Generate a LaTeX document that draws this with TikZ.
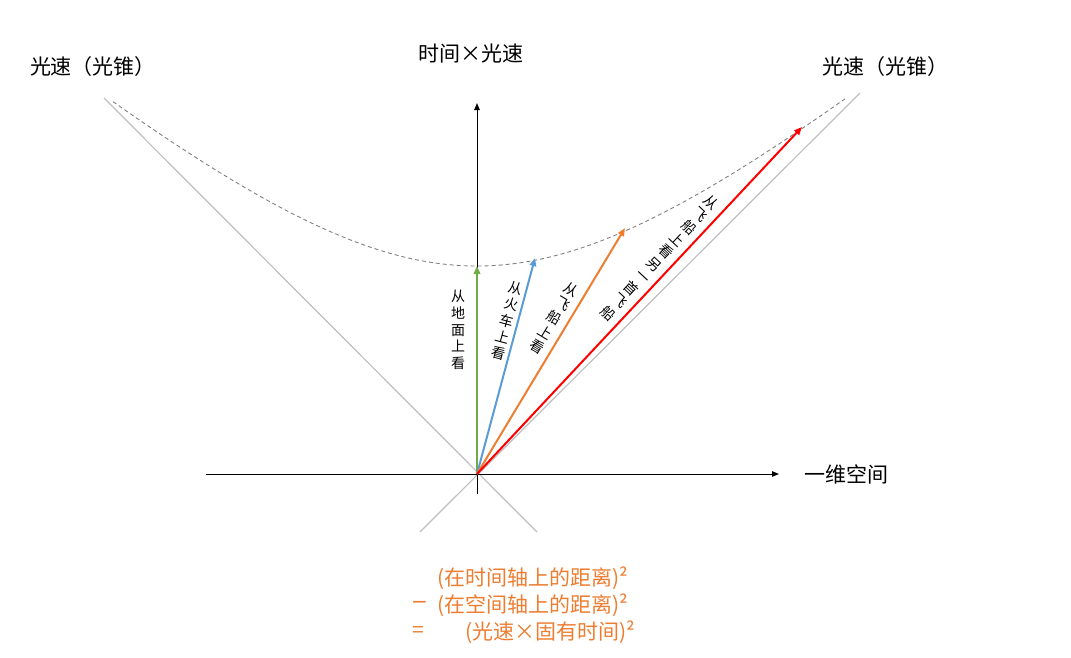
\documentclass[tikz,border=0pt]{standalone}
\usepackage{fontspec}
\setmainfont{Noto Sans CJK SC}
\newfontfamily\djv{DejaVu Sans}
\usetikzlibrary{arrows.meta}
\definecolor{cgreen}{HTML}{70AD47}
\definecolor{cblue}{HTML}{5B9BD5}
\definecolor{corange}{HTML}{ED7D31}
\definecolor{cred}{HTML}{FF0000}
\definecolor{cone}{HTML}{BFBFBF}
\definecolor{hypgray}{HTML}{808080}
\tikzset{
  axis/.style={black, line width=1pt, -{Triangle[length=7pt,width=5.5pt]}},
  conel/.style={cone, line width=1.2pt},
  hyp/.style={hypgray, line width=0.9pt, dash pattern=on 4pt off 3pt},
  vec/.style={line width=2pt, -{Triangle[length=8pt,width=6.5pt]}},
  head/.style={font=\fontsize{21}{24}\selectfont, inner sep=0pt},
  vlab/.style={font=\fontsize{14}{16.8}\selectfont, align=center, inner sep=0pt},
  eq/.style={font=\fontsize{21}{24}\selectfont, text=corange, inner sep=0pt, anchor=west},
}
\begin{document}
\begin{tikzpicture}[x=1pt,y=-1pt]
\useasboundingbox (0,0) rectangle (1071,657);
% coordinates
\coordinate (O) at (477,474);
\coordinate (ybot) at (477,494);
\coordinate (ytop) at (477,103);
\coordinate (xl) at (206,474);
\coordinate (xr) at (779,474);
\coordinate (cl1) at (104,98);
\coordinate (cl2) at (537,532);
\coordinate (cr1) at (420,532);
\coordinate (cr2) at (860,93);
\coordinate (tg) at (477,266);
\coordinate (tb) at (535,258);
\coordinate (to) at (625,228);
\coordinate (tr) at (802,127);
% light cone
\draw[conel] (cl1) -- (cl2);
\draw[conel] (cr1) -- (cr2);
% hyperbola
\draw[hyp]
  plot[domain=-364:368, samples=120, smooth] ({477+\x}, {474-100*sqrt(4.3264+0.72*(\x/100)*(\x/100))});
% axes
\draw[axis] (ybot) -- (ytop);
\draw[axis] (xl) -- (xr);
% vectors
\draw[vec, cgreen] (O) -- (tg);
\draw[vec, cblue] (O) -- (tb);
\draw[vec, corange] (O) -- (to);
\draw[vec, cred] (O) -- (tr);
% labels
\node[head] (tlab) at (471,54) {时间×光速};
\node[head] (xlab) at (846,474) {一维空间};
\node[head] (cll) at (93,67) {光速（光锥）};
\node[head] (clr) at (885,67) {光速（光锥）};
\node[vlab] (lg) at (458,330) {从\\地\\面\\上\\看};
\node[vlab, rotate=-15] (lb) at (507,321) {从\\火\\车\\上\\看};
\node[vlab, rotate=-31] (lo) at (554,318) {从\\飞\\船\\上\\看};
\node[vlab, rotate=-43] (lr) at (660,258) {从\\飞\\船\\上\\看\\另\\一\\首\\飞\\船};
% equation
\node[eq] (e1) at (437,578) {(在时间轴上的距离)²};
\node[eq, font=\djv\fontsize{20}{24}\selectfont] (e2m) at (411,605) {−};
\node[eq] (e2) at (437,605) {(在空间轴上的距离)²};
\node[eq] (e3m) at (412,632) {=};
\node[eq] (e3) at (465,632) {(光速×固有时间)²};
\end{tikzpicture}
\end{document}
